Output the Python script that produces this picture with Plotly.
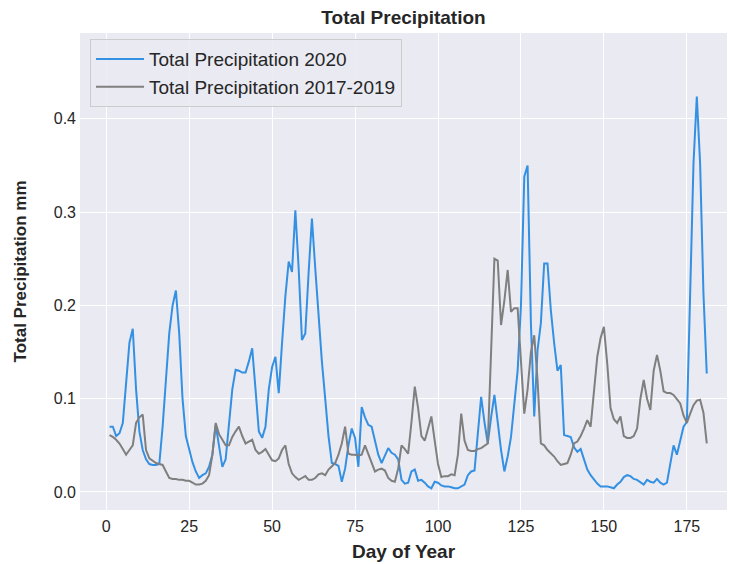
import plotly.graph_objects as go

days = list(range(1, 182))

precip_2020 = [
    0.070, 0.070, 0.060, 0.063, 0.074, 0.120, 0.160, 0.175, 0.110, 0.065,
    0.045, 0.035, 0.030, 0.029, 0.029, 0.030, 0.070, 0.120, 0.170, 0.200,
    0.216, 0.170, 0.100, 0.060, 0.045, 0.032, 0.022, 0.015, 0.018, 0.020,
    0.027, 0.040, 0.072, 0.050, 0.027, 0.035, 0.075, 0.110, 0.131, 0.130,
    0.128, 0.128, 0.140, 0.154, 0.110, 0.065, 0.058, 0.070, 0.110, 0.134,
    0.145, 0.106, 0.160, 0.210, 0.247, 0.236, 0.302, 0.240, 0.163, 0.170,
    0.235, 0.293, 0.240, 0.184, 0.140, 0.100, 0.060, 0.031, 0.030, 0.028,
    0.011, 0.025, 0.050, 0.068, 0.058, 0.027, 0.091, 0.080, 0.072, 0.070,
    0.055, 0.040, 0.031, 0.040, 0.047, 0.042, 0.040, 0.035, 0.013, 0.009,
    0.010, 0.022, 0.024, 0.012, 0.013, 0.010, 0.006, 0.004, 0.011, 0.010,
    0.007, 0.006, 0.006, 0.005, 0.004, 0.004, 0.006, 0.008, 0.018, 0.022,
    0.023, 0.060, 0.102, 0.075, 0.052, 0.080, 0.104, 0.075, 0.045, 0.022,
    0.038, 0.059, 0.095, 0.130, 0.200, 0.338, 0.350, 0.181, 0.081, 0.152,
    0.181, 0.245, 0.245, 0.195, 0.160, 0.130, 0.136, 0.061, 0.060, 0.059,
    0.048, 0.043, 0.046, 0.035, 0.024, 0.018, 0.013, 0.009, 0.006, 0.006,
    0.006, 0.005, 0.004, 0.008, 0.011, 0.016, 0.018, 0.017, 0.014, 0.013,
    0.010, 0.008, 0.013, 0.011, 0.010, 0.014, 0.010, 0.008, 0.010, 0.030,
    0.050, 0.040, 0.055, 0.070, 0.075, 0.200, 0.352, 0.424, 0.352, 0.213,
    0.127,
]

precip_2017_2019 = [
    0.061, 0.059, 0.056, 0.052, 0.046, 0.040, 0.045, 0.050, 0.074, 0.080,
    0.083, 0.045, 0.036, 0.033, 0.031, 0.030, 0.029, 0.022, 0.015, 0.014,
    0.014, 0.013, 0.013, 0.012, 0.012, 0.010, 0.008, 0.008, 0.009, 0.012,
    0.018, 0.040, 0.074, 0.062, 0.056, 0.050, 0.050, 0.059, 0.065, 0.070,
    0.060, 0.052, 0.054, 0.056, 0.045, 0.041, 0.043, 0.046, 0.040, 0.034,
    0.033, 0.036, 0.045, 0.050, 0.030, 0.020, 0.016, 0.013, 0.015, 0.017,
    0.013, 0.013, 0.015, 0.019, 0.020, 0.018, 0.024, 0.028, 0.031, 0.040,
    0.052, 0.070, 0.041, 0.040, 0.040, 0.039, 0.040, 0.050, 0.040, 0.030,
    0.022, 0.024, 0.025, 0.023, 0.015, 0.012, 0.011, 0.025, 0.050, 0.046,
    0.041, 0.075, 0.113, 0.090, 0.060, 0.055, 0.068, 0.081, 0.055, 0.030,
    0.016, 0.017, 0.017, 0.019, 0.018, 0.040, 0.084, 0.055, 0.045, 0.044,
    0.044, 0.046, 0.047, 0.050, 0.052, 0.150, 0.250, 0.248, 0.179, 0.205,
    0.238, 0.193, 0.197, 0.197, 0.140, 0.084, 0.110, 0.150, 0.168, 0.120,
    0.052, 0.050, 0.045, 0.042, 0.038, 0.033, 0.029, 0.030, 0.031, 0.040,
    0.052, 0.054, 0.060, 0.068, 0.077, 0.070, 0.110, 0.145, 0.165, 0.177,
    0.138, 0.090, 0.078, 0.074, 0.081, 0.060, 0.058, 0.058, 0.060, 0.068,
    0.100, 0.120, 0.100, 0.088, 0.130, 0.147, 0.130, 0.108, 0.106, 0.106,
    0.104, 0.100, 0.095, 0.082, 0.074, 0.084, 0.093, 0.098, 0.099, 0.085,
    0.052,
]

x_ticks = [0, 25, 50, 75, 100, 125, 150, 175]
y_ticks = [0.0, 0.1, 0.2, 0.3, 0.4]

FONT = "Liberation Sans, Arial, sans-serif"
TXT = "#262626"

fig = go.Figure()
fig.add_trace(go.Scatter(x=days, y=precip_2020, mode="lines",
                         name="Total Precipitation 2020",
                         line=dict(color="#3390e3", width=2)))
fig.add_trace(go.Scatter(x=days, y=precip_2017_2019, mode="lines",
                         name="Total Precipitation 2017-2019",
                         line=dict(color="#7f7f7f", width=2)))

fig.update_layout(
    width=730, height=564,
    margin=dict(l=80, r=3, t=33, b=54),
    paper_bgcolor="white",
    plot_bgcolor="#EAEAF2",
    font=dict(family=FONT, color=TXT, size=16),
    title=dict(text="<b>Total Precipitation</b>", x=0.5, xref="paper",
               xanchor="center",
               y=1 - 17 / 564, yref="container", yanchor="middle",
               font=dict(size=19, color=TXT)),
    legend=dict(x=0.0155, y=0.987, xanchor="left", yanchor="top",
                bgcolor="rgba(234,234,242,0.85)", bordercolor="#cccccc",
                borderwidth=1, font=dict(size=19, color=TXT),
                itemwidth=48, tracegroupgap=4),
    showlegend=True,
)
fig.update_xaxes(range=[-7.9, 187.1], tickvals=x_ticks,
                 showgrid=True, gridcolor="white", gridwidth=1,
                 zeroline=False, showline=False, ticks="",
                 ticklabelstandoff=5,
                 tickfont=dict(size=16, color=TXT),
                 title=dict(text="<b>Day of Year</b>", font=dict(size=19), standoff=10))
fig.update_yaxes(range=[-0.0193, 0.492], tickvals=y_ticks, tickformat=".1f",
                 showgrid=True, gridcolor="white", gridwidth=1,
                 zeroline=False, showline=False, ticks="",
                 ticklabelstandoff=3,
                 tickfont=dict(size=16, color=TXT),
                 title=dict(text="<b>Total Precipitation mm</b>", font=dict(size=17), standoff=22))

fig.write_html("out.html")
